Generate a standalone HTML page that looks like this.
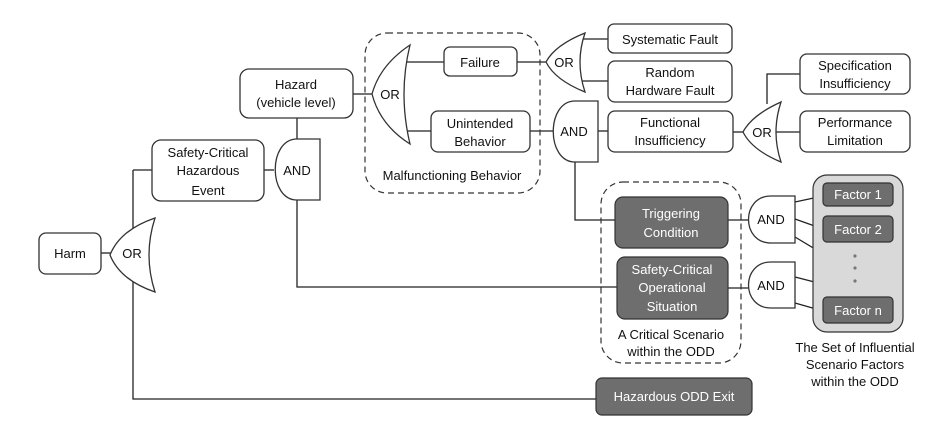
<!DOCTYPE html>
<html><head><meta charset="utf-8"><style>
body{margin:0;background:#fff}
text{font-family:"Liberation Sans",sans-serif;font-size:13px;fill:#111;text-anchor:middle}
.w{fill:#fff}
</style></head><body>
<svg width="939" height="435" viewBox="0 0 939 435" xmlns="http://www.w3.org/2000/svg">
<g fill="none" stroke="#222" stroke-width="1.3">
<!-- connectors -->
<path d="M101 253H112"/>
<path d="M133 170V399H596"/>
<path d="M133 170H152"/>
<path d="M264 170H274"/>
<path d="M297 118V139"/>
<path d="M297 200V287H617"/>
<path d="M353 94H374"/>
<path d="M404 62H444"/>
<path d="M404 131H431"/>
<path d="M517 62H548"/>
<path d="M579 39H608"/>
<path d="M579 81H608"/>
<path d="M530 131H553"/>
<path d="M598 131H608"/>
<path d="M733 132H744"/>
<path d="M767 104V74H800"/>
<path d="M775 132H800"/>
<path d="M575 162V220H615"/>
<path d="M728 220H748"/>
<path d="M728 288H748"/>
<path d="M795 202L823 196M795 219L823 229M795 237L830 258M795 277L830 286M795 303L823 311"/>
</g>
<!-- dashed groups -->
<rect x="365" y="33" width="175" height="160" rx="22" fill="none" stroke="#333" stroke-width="1.2" stroke-dasharray="6,4"/>
<rect x="601" y="182" width="140" height="181" rx="22" fill="none" stroke="#333" stroke-width="1.2" stroke-dasharray="6,4"/>
<rect x="813" y="175" width="90" height="157" rx="14" fill="#d9d9d9" stroke="#333" stroke-width="1.2"/>
<!-- white boxes -->
<g fill="#fff" stroke="#333" stroke-width="1.3">
<rect x="39" y="233" width="62" height="41" rx="7"/>
<rect x="152" y="140" width="112" height="61" rx="9"/>
<rect x="240" y="69" width="113" height="49" rx="9"/>
<rect x="444" y="47" width="73" height="29" rx="6"/>
<rect x="431" y="111" width="99" height="41" rx="7"/>
<rect x="608" y="24" width="124" height="29" rx="6"/>
<rect x="608" y="61" width="124" height="41" rx="7"/>
<rect x="608" y="111" width="125" height="41" rx="7"/>
<rect x="800" y="54" width="110" height="40" rx="7"/>
<rect x="800" y="111" width="110" height="41" rx="7"/>
</g>
<g fill="#6e6e6e" stroke="#333" stroke-width="1.2">
<rect x="615" y="197" width="113" height="51" rx="8"/>
<rect x="617" y="257" width="111" height="62" rx="8"/>
<rect x="596" y="378" width="156" height="37" rx="6"/>
<rect x="823" y="183" width="70" height="23" rx="4"/>
<rect x="823" y="216" width="70" height="26" rx="4"/>
<rect x="823" y="297" width="70" height="26" rx="4"/>
</g>
<g fill="#777"><circle cx="855" cy="256" r="1.6"/><circle cx="855" cy="268" r="1.6"/><circle cx="855" cy="281" r="1.6"/></g>
<!-- OR gates -->
<g fill="#fff" stroke="#333" stroke-width="1.3">
<path d="M155 218Q120 230 110 255Q120 280 155 292Q143 255 155 218Z"/>
<path d="M410 45Q380 65 372 94Q380 125 410 144Q398 94 410 45Z"/>
<path d="M585 33Q555 45 546 62Q555 80 585 92Q575 62 585 33Z"/>
<path d="M781 102Q752 115 743 132Q752 150 781 162Q771 132 781 102Z"/>
<!-- AND gates -->
<path d="M320 139H297C268 139 268 200 297 200H320Z"/>
<path d="M598 101H575C546 101 546 162 575 162H598Z"/>
<path d="M795 196H771C741 196 741 243 771 243H795Z"/>
<path d="M795 262H771C741 262 741 308 771 308H795Z"/>
</g>
<!-- labels -->
<text x="70" y="258">Harm</text>
<text x="132" y="258">OR</text>
<text x="208" y="157">Safety-Critical</text>
<text x="208" y="175">Hazardous</text>
<text x="208" y="195">Event</text>
<text x="296" y="89">Hazard</text>
<text x="296" y="107">(vehicle level)</text>
<text x="297" y="175">AND</text>
<text x="390" y="99">OR</text>
<text x="480" y="67">Failure</text>
<text x="480" y="128">Unintended</text>
<text x="480" y="146">Behavior</text>
<text x="452" y="180">Malfunctioning Behavior</text>
<text x="564" y="67">OR</text>
<text x="670" y="44">Systematic Fault</text>
<text x="670" y="77">Random</text>
<text x="670" y="95">Hardware Fault</text>
<text x="574" y="136">AND</text>
<text x="670" y="127">Functional</text>
<text x="670" y="145">Insufficiency</text>
<text x="762" y="137">OR</text>
<text x="855" y="70">Specification</text>
<text x="855" y="88">Insufficiency</text>
<text x="855" y="127">Performance</text>
<text x="855" y="145">Limitation</text>
<text class="w" x="671" y="218">Triggering</text>
<text class="w" x="671" y="237">Condition</text>
<text class="w" x="672" y="274">Safety-Critical</text>
<text class="w" x="672" y="292">Operational</text>
<text class="w" x="672" y="311">Situation</text>
<text x="671" y="339">A Critical Scenario</text>
<text x="671" y="356">within the ODD</text>
<text x="771" y="224">AND</text>
<text x="771" y="290">AND</text>
<text class="w" x="858" y="199">Factor 1</text>
<text class="w" x="858" y="234">Factor 2</text>
<text class="w" x="858" y="315">Factor n</text>
<text x="855" y="352">The Set of Influential</text>
<text x="855" y="369">Scenario Factors</text>
<text x="855" y="386">within the ODD</text>
<text class="w" x="674" y="401">Hazardous ODD Exit</text>
</svg>
</body></html>
